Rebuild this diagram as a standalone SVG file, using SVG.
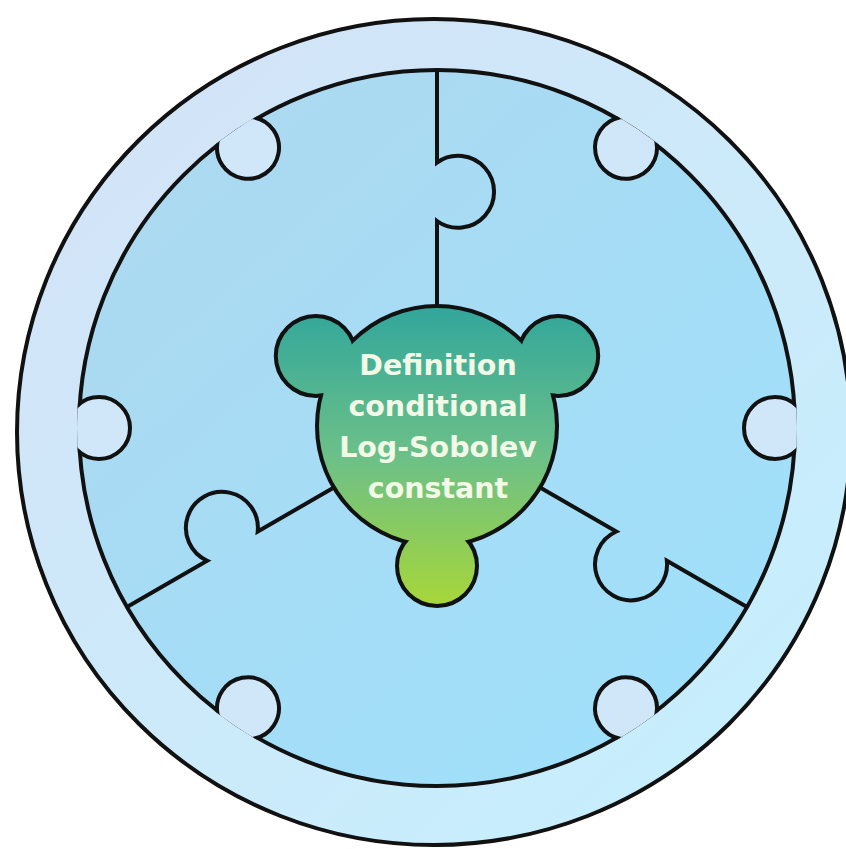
<svg xmlns="http://www.w3.org/2000/svg" width="846" height="849" viewBox="0 0 846 849">
  <defs>
    <linearGradient id="ringGrad" gradientUnits="userSpaceOnUse" x1="100" y1="80" x2="760" y2="800">
      <stop offset="0" stop-color="#d3e4f7"/>
      <stop offset="1" stop-color="#c6effd"/>
    </linearGradient>
    <linearGradient id="innerGrad" gradientUnits="userSpaceOnUse" x1="150" y1="120" x2="720" y2="760">
      <stop offset="0" stop-color="#acd9f0"/>
      <stop offset="1" stop-color="#9fe0fb"/>
    </linearGradient>
    <linearGradient id="blobGrad" gradientUnits="userSpaceOnUse" x1="0" y1="310" x2="0" y2="603">
      <stop offset="0" stop-color="#33a79b"/>
      <stop offset="0.5" stop-color="#6cc088"/>
      <stop offset="1" stop-color="#a6d63a"/>
    </linearGradient>
    <clipPath id="innerClip">
      <circle cx="437" cy="428" r="360"/>
    </clipPath>
    <circle id="ringKnob" cx="99" cy="428" r="31"/>
    <path id="divider" d="M437 340 L437 221 A36 36 0 1 0 437 162.6 L437 70"/>
  </defs>
  <style>
    .ln { stroke: #111; stroke-width: 4; fill: none; stroke-linejoin: miter; }
    .knob { fill: url(#ringGrad); stroke: #111; stroke-width: 4; }
    .blobStroke { fill: #111; stroke: #111; stroke-width: 8; }
    .blobFill { fill: url(#blobGrad); }
    .label { font-family: "DejaVu Sans", "Liberation Sans", sans-serif; font-weight: bold; font-size: 28.5px; fill: #f2f9e6; text-anchor: middle; }
  </style>

  <g id="ring">
    <ellipse cx="434" cy="432" rx="417" ry="413" fill="url(#ringGrad)" stroke="#111" stroke-width="4"/>
  </g>

  <g id="puzzle">
    <circle cx="437" cy="428" r="358" fill="url(#innerGrad)" stroke="#111" stroke-width="4"/>
    <g clip-path="url(#innerClip)">
      <use href="#ringKnob" class="knob"/>
      <use href="#ringKnob" class="knob" transform="rotate(56 437 428)"/>
      <use href="#ringKnob" class="knob" transform="rotate(-56 437 428)"/>
      <use href="#ringKnob" class="knob" transform="rotate(180 437 428)"/>
      <use href="#ringKnob" class="knob" transform="rotate(124 437 428)"/>
      <use href="#ringKnob" class="knob" transform="rotate(236 437 428)"/>
    </g>
  </g>

  <g id="connectors">
    <use href="#divider" class="ln"/>
    <use href="#divider" class="ln" transform="rotate(120 437 428)"/>
    <use href="#divider" class="ln" transform="rotate(240 437 428)"/>
  </g>

  <g id="center-node">
    <g class="blobStroke">
      <circle cx="437" cy="426" r="118"/>
      <circle cx="437" cy="566" r="38"/>
      <circle cx="315.8" cy="356" r="38"/>
      <circle cx="558.2" cy="356" r="38"/>
    </g>
    <g class="blobFill">
      <circle cx="437" cy="426" r="118"/>
      <circle cx="437" cy="566" r="38"/>
      <circle cx="315.8" cy="356" r="38"/>
      <circle cx="558.2" cy="356" r="38"/>
    </g>
    <text class="label" x="438" y="375">Definition</text>
    <text class="label" x="438" y="416">conditional</text>
    <text class="label" x="438" y="457">Log-Sobolev</text>
    <text class="label" x="438" y="498">constant</text>
  </g>
</svg>
